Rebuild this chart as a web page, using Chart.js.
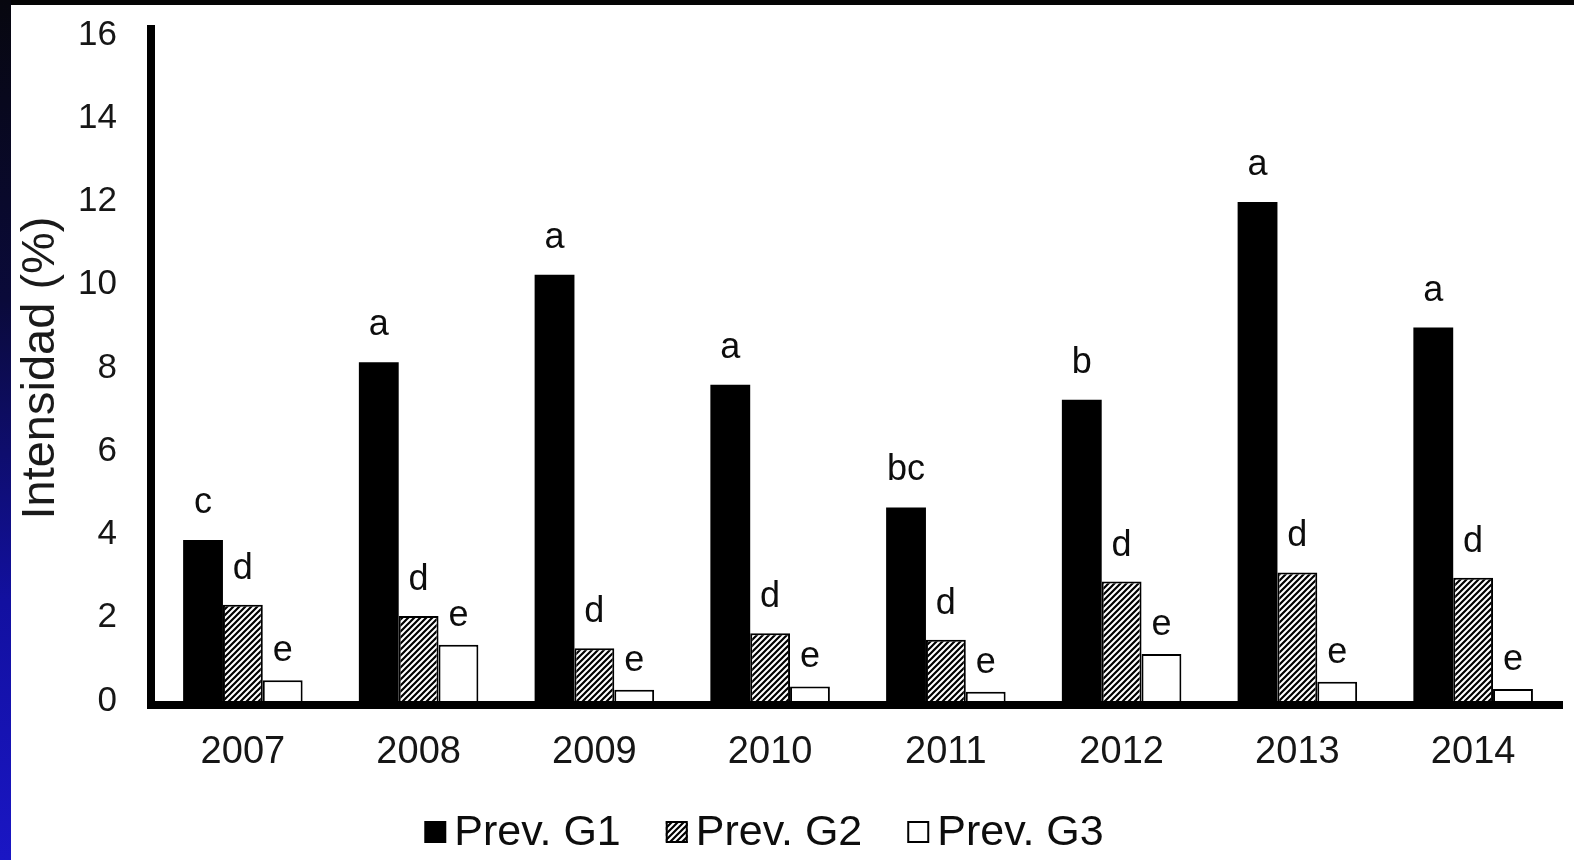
<!DOCTYPE html>
<html lang="es">
<head>
<meta charset="utf-8">
<title>Intensidad (%) 2007–2014</title>
<script src="https://cdn.jsdelivr.net/npm/chart.js@4/dist/chart.umd.min.js"></script>
<style>
  html, body { margin: 0; padding: 0; background: #fff; overflow: hidden; }
  #wrap { position: relative; width: 1574px; height: 860px; }
  #chart { position: absolute; left: 0; top: 0; }
  .frame-top { position: absolute; left: 0; top: 0; width: 1574px; height: 5px; background: #050505; }
  .frame-left { position: absolute; left: 0; top: 0; width: 11px; height: 860px;
    background: linear-gradient(to bottom, #07070f 0%, #0a0a3a 35%, #1210a0 70%, #1a16c4 100%); }
</style>
</head>
<body>
<div id="wrap">
  <canvas id="chart" width="1574" height="860"></canvas>
  <div class="frame-top"></div>
  <div class="frame-left"></div>
</div>
<script>
// Years on the category axis
const years = ['2007', '2008', '2009', '2010', '2011', '2012', '2013', '2014'];

// Intensity (%) per group and year
const prevG1 = [3.87, 8.14, 10.24, 7.6, 4.65, 7.24, 11.99, 8.97];
const prevG2 = [2.31, 2.04, 1.27, 1.63, 1.47, 2.87, 3.09, 2.96];
const prevG3 = [0.5, 1.35, 0.27, 0.35, 0.22, 1.13, 0.46, 0.29];

// Significance letters shown above each bar
const lettersG1 = ['c', 'a', 'a', 'a', 'bc', 'b', 'a', 'a'];
const lettersG2 = ['d', 'd', 'd', 'd', 'd', 'd', 'd', 'd'];
const lettersG3 = ['e', 'e', 'e', 'e', 'e', 'e', 'e', 'e'];

// Value axis range and step
const yMin = 0;
const yMax = 16;
const yStep = 2;

const seriesNames = ['Prev. G1', 'Prev. G2', 'Prev. G3'];
const FONT = "'Liberation Sans', Arial, Helvetica, sans-serif";

// Upward diagonal hatch (black lines on white)
function makeHatch(ctx) {
  const c = document.createElement('canvas');
  c.width = 6; c.height = 6;
  const g = c.getContext('2d');
  g.fillStyle = '#fff';
  g.fillRect(0, 0, 6, 6);
  g.strokeStyle = '#000';
  g.lineWidth = 2.2;
  g.beginPath();
  g.moveTo(-1, 1); g.lineTo(1, -1);
  g.moveTo(-1, 7); g.lineTo(7, -1);
  g.moveTo(5, 7); g.lineTo(7, 5);
  g.stroke();
  return ctx.createPattern(c, 'repeat');
}

const canvas = document.getElementById('chart');
const ctx = canvas.getContext('2d');
const hatch = makeHatch(ctx);

// Thick black axis lines (L shape)
const axisLines = {
  id: 'axisLines',
  afterDatasetsDraw(chart) {
    const { left, right, top, bottom } = chart.chartArea;
    const c = chart.ctx;
    c.save();
    c.fillStyle = '#000';
    c.fillRect(left - 8, top - 10, 8, bottom + 8 - (top - 10));
    c.fillRect(left - 8, bottom, right + 2 - (left - 8), 8);
    c.restore();
  }
};

// Letters above bars (gap between bar top and letter baseline per series)
const barLetters = {
  id: 'barLetters',
  afterDatasetsDraw(chart) {
    const sets = [lettersG1, lettersG2, lettersG3];
    const gaps = [27, 26, 19];
    const c = chart.ctx;
    c.save();
    c.fillStyle = '#0d0d0d';
    c.font = '36px ' + FONT;
    c.textAlign = 'center';
    c.textBaseline = 'alphabetic';
    chart.data.datasets.forEach((ds, i) => {
      const meta = chart.getDatasetMeta(i);
      meta.data.forEach((bar, j) => {
        c.fillText(sets[i][j], bar.x, bar.y - gaps[i]);
      });
    });
    c.restore();
  }
};

// Legend row under the axis
const legendRow = {
  id: 'legendRow',
  afterDraw(chart) {
    const c = chart.ctx;
    const box = 22, gapText = 8, gapItem = 45;
    const centerX = 764, midY = 833;
    c.save();
    c.font = '43px ' + FONT;
    c.textBaseline = 'middle';
    c.textAlign = 'left';
    const items = chart.data.datasets.map(ds => ({ label: ds.label, ds, w: c.measureText(ds.label).width }));
    const total = items.reduce((s, it) => s + box + gapText + it.w, 0) + gapItem * (items.length - 1);
    let x = centerX - total / 2;
    items.forEach(it => {
      const y0 = midY - box / 2 - 1;
      c.fillStyle = it.ds.backgroundColor;
      c.fillRect(x, y0, box, box);
      if (it.ds.borderWidth) {
        c.strokeStyle = '#000';
        c.lineWidth = 2;
        c.strokeRect(x + 1, y0 + 1, box - 2, box - 2);
      }
      c.fillStyle = '#0d0d0d';
      c.fillText(it.label, x + box + gapText, midY);
      x += box + gapText + it.w + gapItem;
    });
    c.restore();
  }
};

new Chart(ctx, {
  type: 'bar',
  data: {
    labels: years,
    datasets: [
      { label: seriesNames[0], data: prevG1, backgroundColor: '#000', borderWidth: 0 },
      { label: seriesNames[1], data: prevG2, backgroundColor: hatch, borderColor: '#000', borderWidth: 2 },
      { label: seriesNames[2], data: prevG3, backgroundColor: '#fff', borderColor: '#000', borderWidth: 2 }
    ]
  },
  options: {
    responsive: false,
    animation: false,
    events: [],
    datasets: { bar: { categoryPercentage: 0.68, barPercentage: 1.0, borderSkipped: 'bottom' } },
    layout: { padding: { left: 11, top: 35, right: 13, bottom: 0 } },
    plugins: { legend: { display: false }, tooltip: { enabled: false }, title: { display: false } },
    scales: {
      x: {
        grid: { display: false, drawTicks: false },
        border: { display: false },
        ticks: { color: '#161616', font: { family: FONT, size: 38 }, padding: 29, maxRotation: 0 },
        afterFit(s) { s.height = 159; }
      },
      y: {
        min: yMin,
        max: yMax,
        grid: { display: false, drawTicks: false },
        border: { display: false },
        ticks: { stepSize: yStep, color: '#161616', font: { family: FONT, size: 35 }, padding: 38 },
        title: {
          display: true,
          text: 'Intensidad (%)',
          color: '#1a1a1a',
          font: { family: FONT, size: 47 },
          padding: { top: 2, bottom: 0 }
        },
        afterFit(s) {
          s.width = 144;
          // the top and bottom labels fit inside the layout padding already
          s.paddingTop = 0;
          s.paddingBottom = 0;
        }
      }
    }
  },
  plugins: [axisLines, barLetters, legendRow]
});
</script>
</body>
</html>
